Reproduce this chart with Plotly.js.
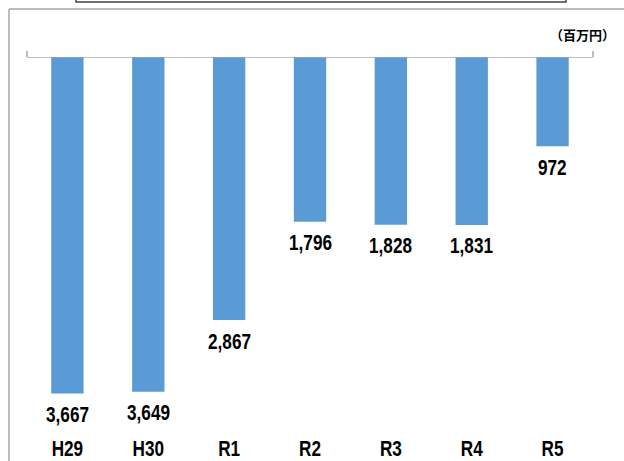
<!DOCTYPE html>
<html>
<head>
<meta charset="utf-8">
<script src="https://cdn.plot.ly/plotly-3.0.1.min.js"></script>
<style>html,body{margin:0;padding:0;background:#fff;}#chart{width:624px;height:461px;}</style>
</head>
<body>
<div id="chart"></div>
<script>
const categories = ["H29", "H30", "R1", "R2", "R3", "R4", "R5"];
const values = [3667, 3649, 2867, 1796, 1828, 1831, 972];
const unitLabel = "（百万円）";

const numFont = "'Liberation Sans', Arial, sans-serif";
const narrow = 0.78;   // horizontal squeeze to mimic a condensed face
const W = 624, H = 461;
const m = {l: 27, r: 31, t: 57, b: 37};
const pw = W - m.l - m.r, ph = H - m.t - m.b;
const px = v => (v - m.l) / pw;          // pixel x -> paper x
const py = v => 1 + (m.t - v) / ph;      // pixel y -> paper y

const trace = {
  type: "bar",
  x: categories,
  y: values,
  marker: {color: "#5B9BD5", line: {width: 0}},
  hoverinfo: "none"
};

const annotations = categories.map((c, i) => ({
  x: c, y: values[i], xref: "x", yref: "y",
  text: values[i].toLocaleString("en-US"),
  showarrow: false, yanchor: "middle", xanchor: "center", yshift: -21,
  font: {family: numFont, size: 22, color: "#000", weight: "bold"}
}));
annotations.push({
  xref: "paper", yref: "paper", x: px(582), y: py(34),
  text: unitLabel, showarrow: false, xanchor: "center", yanchor: "middle",
  font: {family: "'Noto Sans CJK JP', sans-serif", size: 13, color: "#000", weight: "bold"}
});

const layout = {
  width: W, height: H,
  margin: m,
  paper_bgcolor: "#fff", plot_bgcolor: "#fff",
  showlegend: false,
  bargap: 0.6,
  xaxis: {
    type: "category",
    showline: false, showgrid: false, zeroline: false,
    ticks: "outside", ticklen: 5, tickcolor: "rgba(0,0,0,0)",
    tickfont: {family: numFont, size: 22, color: "#000", weight: "bold"}
  },
  yaxis: {
    range: [4000, 0],
    visible: false, showgrid: false, zeroline: false
  },
  annotations: annotations,
  shapes: [
    {type: "line", xref: "paper", yref: "paper", x0: px(9), x1: px(9), y0: py(9), y1: py(470), line: {color: "#a6a6a6", width: 1.5}},
    {type: "line", xref: "paper", yref: "paper", x0: px(9), x1: px(640), y0: py(9), y1: py(9), line: {color: "#a6a6a6", width: 1.5}},
    {type: "rect", xref: "paper", yref: "paper", x0: px(76), x1: px(566), y0: py(2), y1: py(-10), line: {color: "#404040", width: 1.5}, fillcolor: "rgba(0,0,0,0)"},
    {type: "line", xref: "paper", yref: "y", x0: 0, x1: 1, y0: 0, y1: 0, line: {color: "#a6a6a6", width: 1.5}},
    {type: "line", xref: "paper", yref: "paper", x0: 0, x1: 0, y0: 1, y1: py(51), line: {color: "#a6a6a6", width: 1.5}},
    {type: "line", xref: "paper", yref: "paper", x0: 1, x1: 1, y0: 1, y1: py(51), line: {color: "#a6a6a6", width: 1.5}}
  ]
};

function squeeze(el, s) {
  const bb = el.getBBox();
  const cx = bb.x + bb.width / 2;
  const t = el.getAttribute("transform") || "";
  el.setAttribute("transform", t + " translate(" + cx + ",0) scale(" + s + ",1) translate(" + (-cx) + ",0)");
}

Plotly.newPlot("chart", [trace], layout, {displayModeBar: false, staticPlot: true}).then(gd => {
  gd.querySelectorAll(".xtick text").forEach(el => squeeze(el, narrow));
  gd.querySelectorAll("g.annotation").forEach(g => {
    const idx = +g.getAttribute("data-index");
    if (idx < categories.length) {
      const t = g.querySelector("text.annotation-text");
      if (t) squeeze(t, narrow);
    }
  });
});
</script>
</body>
</html>
